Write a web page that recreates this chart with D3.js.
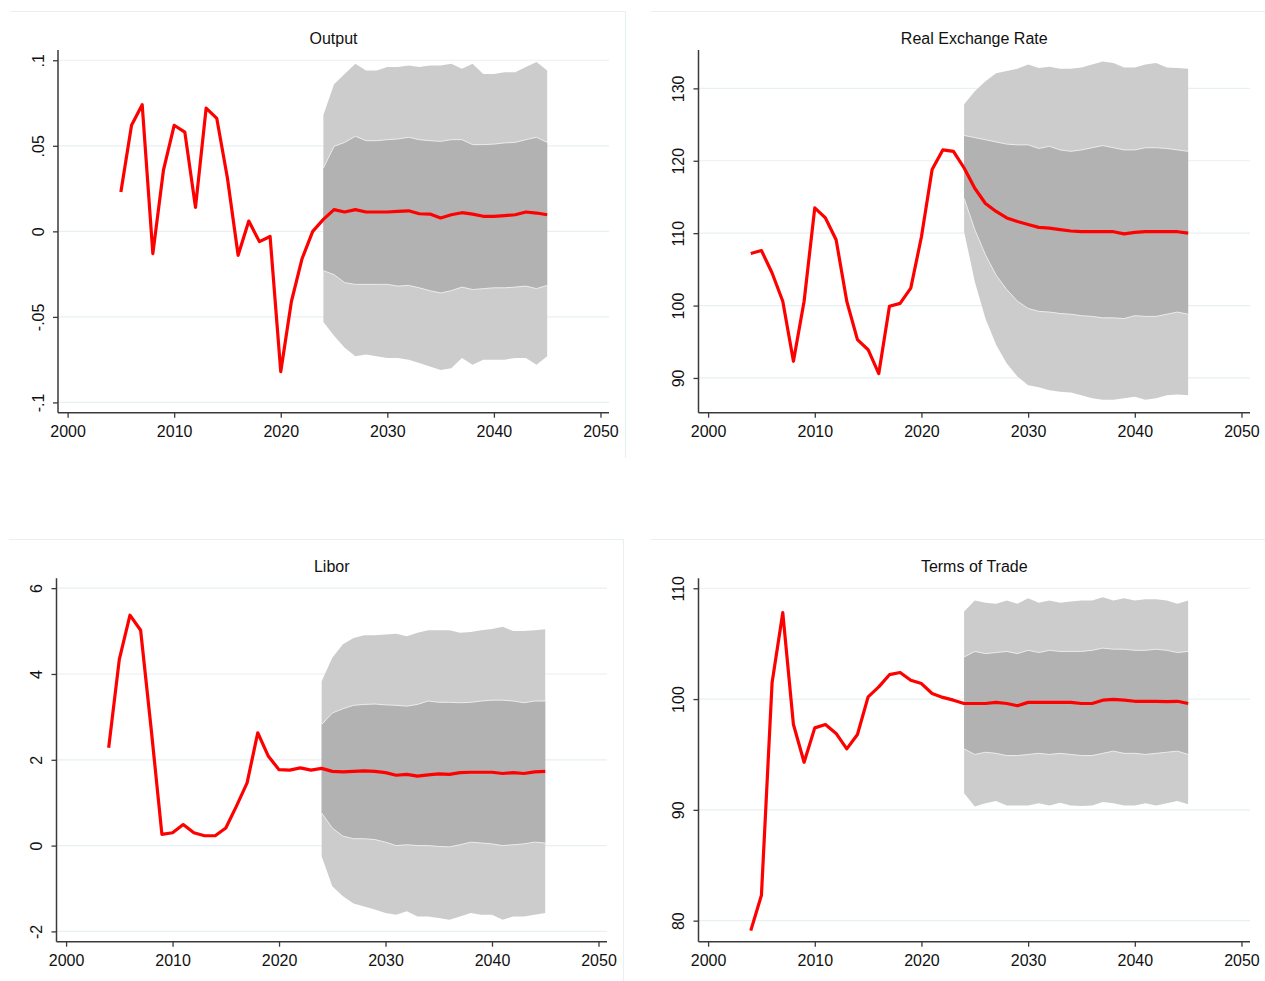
<!DOCTYPE html>
<html>
<head>
<meta charset="utf-8">
<script src="https://cdn.jsdelivr.net/npm/d3@7"></script>
<style>
  html, body { margin: 0; padding: 0; background: #ffffff; }
  svg { display: block; font-family: "Liberation Sans", Arial, sans-serif; }
</style>
</head>
<body>
<svg id="chart" width="1265" height="981"></svg>
<script>
// ---------------- DATA ----------------
const years = [2004, 2005, 2006, 2007, 2008, 2009, 2010, 2011, 2012, 2013,
               2014, 2015, 2016, 2017, 2018, 2019, 2020, 2021, 2022, 2023,
               2024, 2025, 2026, 2027, 2028, 2029, 2030, 2031, 2032, 2033,
               2034, 2035, 2036, 2037, 2038, 2039, 2040, 2041, 2042, 2043,
               2044, 2045];
const bandYears = [2024, 2025, 2026, 2027, 2028, 2029, 2030, 2031, 2032, 2033,
                   2034, 2035, 2036, 2037, 2038, 2039, 2040, 2041, 2042, 2043,
                   2044, 2045];
const xTicks = [2000, 2010, 2020, 2030, 2040, 2050];

// Output
const outputLine = [null, 0.023, 0.062, 0.074, -0.013, 0.036, 0.062, 0.058, 0.014, 0.072,
  0.066, 0.031, -0.014, 0.006, -0.006, -0.003, -0.082, -0.041, -0.016, 0.000,
  0.007, 0.0127, 0.0113, 0.0127, 0.0113, 0.0113, 0.0113, 0.0117, 0.012, 0.0103,
  0.0101, 0.0078, 0.0097, 0.0109, 0.0101, 0.0088, 0.0088, 0.0092, 0.0097, 0.0113,
  0.0107, 0.0097];
const outputHi90 = [0.068, 0.086, 0.092, 0.098, 0.094, 0.094, 0.096, 0.096, 0.097, 0.096, 0.097,
  0.097, 0.098, 0.095, 0.098, 0.092, 0.092, 0.093, 0.093, 0.096, 0.099, 0.094];
const outputHi68 = [0.037, 0.0497, 0.052, 0.0556, 0.053, 0.053, 0.0536, 0.054, 0.055, 0.0536, 0.053,
  0.0526, 0.0536, 0.0536, 0.0507, 0.0507, 0.051, 0.0517, 0.052, 0.0536, 0.055, 0.052];
const outputLo68 = [-0.023, -0.0253, -0.030, -0.031, -0.031, -0.031, -0.031, -0.032, -0.0316, -0.033, -0.0347,
  -0.036, -0.0347, -0.0326, -0.034, -0.0335, -0.033, -0.033, -0.0326, -0.032, -0.0335, -0.0316];
const outputLo90 = [-0.053, -0.061, -0.068, -0.073, -0.072, -0.073, -0.074, -0.074, -0.075, -0.077, -0.079,
  -0.081, -0.080, -0.074, -0.078, -0.075, -0.075, -0.075, -0.074, -0.074, -0.078, -0.073];
const outputTicks = [-0.1, -0.05, 0, 0.05, 0.1];

// Real Exchange Rate
const rerLine = [107.2, 107.6, 104.5, 100.6, 92.3, 100.6, 113.5, 112.1, 109.1, 100.6,
  95.3, 93.9, 90.6, 99.9, 100.3, 102.4, 109.5, 118.8, 121.5, 121.3,
  119.0, 116.2, 114.1, 113.0, 112.1, 111.6, 111.2, 110.8, 110.7, 110.5,
  110.3, 110.2, 110.2, 110.2, 110.2, 109.9, 110.1, 110.2, 110.2, 110.2, 110.2, 110.0];
const rerHi90 = [127.8, 129.6, 131.0, 132.1, 132.4, 132.7, 133.3, 132.8, 133.0, 132.7, 132.7,
  132.9, 133.3, 133.7, 133.5, 132.9, 132.9, 133.3, 133.5, 132.9, 132.8, 132.7];
const rerHi68 = [123.5, 123.2, 122.9, 122.6, 122.3, 122.2, 122.2, 121.7, 122.0, 121.5, 121.3,
  121.5, 121.8, 122.1, 121.8, 121.5, 121.5, 121.8, 121.8, 121.7, 121.5, 121.3];
const rerLo68 = [114.8, 110.5, 107.0, 104.2, 102.2, 100.6, 99.6, 99.2, 99.1, 98.9, 98.8,
  98.6, 98.5, 98.3, 98.3, 98.2, 98.6, 98.5, 98.5, 98.8, 99.1, 98.8];
const rerLo90 = [110.2, 103.3, 98.2, 94.6, 92.0, 90.2, 89.0, 88.7, 88.3, 88.1, 88.0,
  87.6, 87.2, 87.0, 87.0, 87.2, 87.4, 87.0, 87.2, 87.6, 87.7, 87.6];
const rerTicks = [90, 100, 110, 120, 130];

// Libor
const liborLine = [2.28, 4.34, 5.37, 5.02, 2.7, 0.26, 0.30, 0.49, 0.30, 0.23,
  0.23, 0.41, 0.92, 1.46, 2.63, 2.08, 1.77, 1.76, 1.81, 1.76,
  1.80, 1.73, 1.72, 1.73, 1.74, 1.73, 1.70, 1.64, 1.66, 1.62,
  1.65, 1.67, 1.66, 1.70, 1.71, 1.71, 1.71, 1.68, 1.70, 1.68, 1.72, 1.73];
const liborHi90 = [3.83, 4.38, 4.69, 4.84, 4.90, 4.90, 4.92, 4.94, 4.88, 4.96, 5.02,
  5.02, 5.02, 4.96, 4.98, 5.02, 5.05, 5.10, 5.00, 5.00, 5.02, 5.04];
const liborHi68 = [2.82, 3.09, 3.19, 3.27, 3.29, 3.30, 3.28, 3.27, 3.25, 3.29, 3.37,
  3.34, 3.34, 3.33, 3.34, 3.37, 3.39, 3.39, 3.37, 3.33, 3.37, 3.37];
const liborLo68 = [0.76, 0.41, 0.22, 0.16, 0.16, 0.14, 0.08, 0.0, 0.02, 0.0, 0.0,
  -0.02, -0.03, 0.02, 0.08, 0.06, 0.04, 0.0, 0.02, 0.04, 0.08, 0.06];
const liborLo90 = [-0.25, -0.95, -1.18, -1.35, -1.42, -1.49, -1.57, -1.61, -1.53, -1.65, -1.65,
  -1.69, -1.73, -1.65, -1.57, -1.61, -1.61, -1.73, -1.65, -1.65, -1.61, -1.57];
const liborTicks = [-2, 0, 2, 4, 6];

// Terms of Trade
const totLine = [79.1, 82.3, 101.5, 107.8, 97.7, 94.3, 97.4, 97.7, 96.9, 95.5,
  96.8, 100.2, 101.1, 102.2, 102.4, 101.7, 101.4, 100.5, 100.15, 99.9,
  99.6, 99.6, 99.6, 99.7, 99.6, 99.4, 99.7, 99.7, 99.7, 99.7,
  99.7, 99.6, 99.6, 99.9, 99.97, 99.9, 99.8, 99.8, 99.8, 99.76, 99.8, 99.6];
const totHi90 = [107.9, 108.9, 108.7, 108.6, 108.9, 108.6, 109.1, 108.7, 108.9, 108.7, 108.8,
  108.9, 108.9, 109.2, 108.9, 109.1, 108.9, 109.0, 109.0, 108.9, 108.6, 108.9];
const totHi68 = [103.8, 104.3, 104.1, 104.2, 104.3, 104.1, 104.4, 104.2, 104.4, 104.3, 104.3,
  104.3, 104.4, 104.6, 104.5, 104.5, 104.4, 104.4, 104.5, 104.4, 104.2, 104.3];
const totLo68 = [95.5, 95.0, 95.2, 95.1, 94.9, 94.9, 95.0, 95.1, 95.0, 95.1, 95.0,
  94.9, 94.9, 95.1, 95.3, 95.1, 95.1, 95.0, 95.1, 95.2, 95.3, 95.0];
const totLo90 = [91.5, 90.3, 90.6, 90.8, 90.4, 90.4, 90.4, 90.6, 90.4, 90.65, 90.4,
  90.35, 90.4, 90.7, 90.6, 90.4, 90.4, 90.6, 90.4, 90.6, 90.8, 90.5];
const totTicks = [80, 90, 100, 110];

// ---------------- PANELS ----------------
const stataFmt = d => d === 0 ? "0" : String(d).replace("0.", ".");

const panels = [
  { title: "Output", line: outputLine, hi90: outputHi90, hi68: outputHi68, lo68: outputLo68, lo90: outputLo90,
    yTicks: outputTicks, yDomain: [-0.106, 0.106], fmt: stataFmt,
    frame: [10, 11, 625, 458], plot: [58, 50, 609, 412.7] },
  { title: "Real Exchange Rate", line: rerLine, hi90: rerHi90, hi68: rerHi68, lo68: rerLo68, lo90: rerLo90,
    yTicks: rerTicks, yDomain: [85.2, 135.3], fmt: String,
    frame: [651, 11, 1266, 458], plot: [698.5, 50, 1250, 412.7] },
  { title: "Libor", line: liborLine, hi90: liborHi90, hi68: liborHi68, lo68: liborLo68, lo90: liborLo90,
    yTicks: liborTicks, yDomain: [-2.24, 6.23], fmt: String,
    frame: [9, 539, 623, 990], plot: [56.5, 578.3, 607, 941.7] },
  { title: "Terms of Trade", line: totLine, hi90: totHi90, hi68: totHi68, lo68: totLo68, lo90: totLo90,
    yTicks: totTicks, yDomain: [78.1, 110.9], fmt: String,
    frame: [651, 539, 1266, 990], plot: [698.5, 578.3, 1250, 941.7] }
];

const svg = d3.select("#chart");
const axisColor = "#3a3a3a";
const gridColor = "#e8f0f1";
const frameColor = "#e9f0f1";

panels.forEach(p => {
  const [fx0, fy0, fx1, fy1] = p.frame;
  const [x0, y0, x1, y1] = p.plot;

  // graph region outline (top and right edges visible)
  svg.append("path")
    .attr("d", `M${fx0},${fy0 + 0.5}H${fx1 + 0.5}V${fy1}`)
    .attr("fill", "none").attr("stroke", frameColor).attr("stroke-width", 1.2);

  const x = d3.scaleLinear().domain([1999.1, 2050.8]).range([x0, x1]);
  const y = d3.scaleLinear().domain(p.yDomain).range([y1, y0]);

  const g = svg.append("g");

  // gridlines
  g.append("g").selectAll("line").data(p.yTicks).join("line")
    .attr("x1", x0).attr("x2", x1)
    .attr("y1", d => y(d)).attr("y2", d => y(d))
    .attr("stroke", gridColor).attr("stroke-width", 1.2);

  const band = bandYears.map((yr, i) => ({
    yr, hi90: p.hi90[i], hi68: p.hi68[i], lo68: p.lo68[i], lo90: p.lo90[i]
  }));

  // outer band
  g.append("path").datum(band)
    .attr("fill", "#cccccc")
    .attr("d", d3.area().x(d => x(d.yr)).y0(d => y(d.lo90)).y1(d => y(d.hi90)));
  // inner band
  g.append("path").datum(band)
    .attr("fill", "#b2b2b2")
    .attr("d", d3.area().x(d => x(d.yr)).y0(d => y(d.lo68)).y1(d => y(d.hi68)));
  // light edges of inner band
  ["hi68", "lo68"].forEach(k => {
    g.append("path").datum(band)
      .attr("fill", "none").attr("stroke", "#ececec").attr("stroke-width", 1)
      .attr("d", d3.line().x(d => x(d.yr)).y(d => y(d[k])));
  });

  // red line
  const pts = years.map((yr, i) => ({ yr, v: p.line[i] }));
  g.append("path").datum(pts)
    .attr("fill", "none").attr("stroke", "#ff0000").attr("stroke-width", 3.2)
    .attr("stroke-linejoin", "round").attr("stroke-linecap", "butt")
    .attr("d", d3.line().defined(d => d.v !== null).x(d => x(d.yr)).y(d => y(d.v)));

  // y axis
  const ya = g.append("g").attr("transform", `translate(${x0},0)`)
    .call(d3.axisLeft(y).tickValues(p.yTicks).tickFormat(p.fmt).tickSize(5).tickSizeOuter(0));
  ya.select(".domain").remove();
  ya.selectAll(".tick line").attr("stroke", axisColor).attr("stroke-width", 1.3);
  ya.selectAll(".tick text")
    .attr("x", 0).attr("dy", 0)
    .attr("text-anchor", "middle")
    .attr("transform", "translate(-14.5,0) rotate(-90)")
    .attr("fill", "#111").style("font-size", "16px");
  ya.append("line").attr("x1", 0).attr("x2", 0).attr("y1", y0).attr("y2", y1)
    .attr("stroke", axisColor).attr("stroke-width", 1.5);

  // x axis
  const xa = g.append("g").attr("transform", `translate(0,${y1})`)
    .call(d3.axisBottom(x).tickValues(xTicks).tickFormat(d3.format("d")).tickSize(5).tickSizeOuter(0).tickPadding(8));
  xa.select(".domain").remove();
  xa.selectAll(".tick line").attr("stroke", axisColor).attr("stroke-width", 1.3);
  xa.selectAll(".tick text").attr("fill", "#111").style("font-size", "16px");
  xa.append("line").attr("x1", x0).attr("x2", x1).attr("y1", 0).attr("y2", 0)
    .attr("stroke", axisColor).attr("stroke-width", 1.5);

  // title
  svg.append("text")
    .attr("x", (x0 + x1) / 2).attr("y", y0 - 6)
    .attr("text-anchor", "middle")
    .attr("fill", "#111").style("font-size", "16px")
    .text(p.title);
});
</script>
</body>
</html>
